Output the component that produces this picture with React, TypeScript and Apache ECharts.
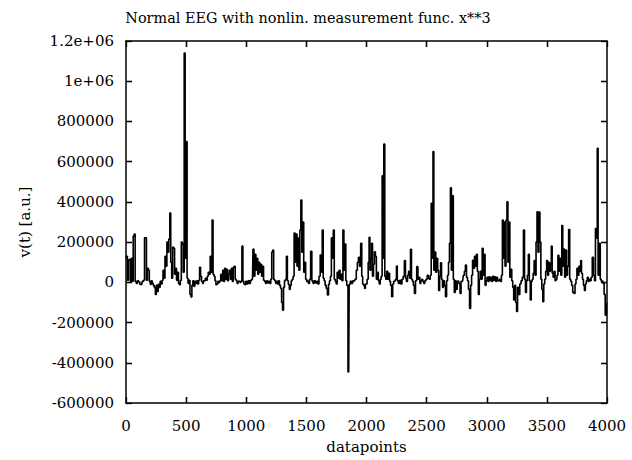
import React, { useEffect, useRef } from "react";
import * as echarts from "echarts";

const TITLE = "Normal EEG with nonlin. measurement func. x**3";
const X_NAME = "datapoints";
const Y_NAME = "v(t) [a.u.]";
const X_TICKS = [0, 500, 1000, 1500, 2000, 2500, 3000, 3500, 4000];
const Y_TICKS = [-600000, -400000, -200000, 0, 200000, 400000, 600000, 800000, 1000000, 1200000];

// [datapoint index, value]
const seg1: [number, number][] = [
  [0, 120000], [8, 130000], [16, 10000], [24, 110000], [32, 115000], [40, 5000], [48, 120000], [56, 5000],
  [64, 230000], [72, 240000], [80, 5000], [90, -5000], [100, 8000], [110, 2000], [120, -10000], [130, -12000],
  [140, 5000], [150, 10000], [158, 222000], [166, 220000], [174, 10000], [182, 70000], [190, 60000], [198, 5000],
  [206, -10000], [214, 8000], [222, -5000], [230, -15000], [240, -25000], [248, -60000], [256, -15000], [264, -45000],
  [272, -10000], [280, -25000], [288, 5000], [296, -8000], [304, 10000], [312, 60000], [320, 20000], [328, 130000],
  [336, 80000], [344, 200000], [352, 150000], [360, 215000], [368, 345000], [376, 100000], [384, 20000], [392, 175000],
  [400, 170000], [408, 40000], [416, 70000], [424, 10000], [432, 50000], [440, -5000], [448, -12000], [456, 10000],
  [464, 200000], [472, 190000], [480, 50000], [488, 1140000], [496, 120000], [504, 700000], [512, 20000], [520, -5000],
  [528, 10000], [536, -60000], [544, -73000], [552, -15000], [560, 8000], [568, -20000], [576, 5000], [584, -5000],
  [592, 8000], [600, -8000], [608, 10000], [616, 75000], [624, 30000], [632, 5000], [640, -5000], [648, 8000],
  [656, 5000], [664, 20000], [672, 10000], [680, 30000], [688, 50000], [696, 40000], [704, 130000], [712, 50000],
  [720, 310000], [728, 40000], [736, 30000], [744, 8000], [752, -12000], [760, -8000], [768, 5000], [776, 0],
  [784, 8000], [792, 40000], [800, 8000], [808, 60000], [816, 5000], [824, 70000], [832, 15000], [840, 65000],
  [848, 8000], [856, 40000], [864, 60000], [872, 15000], [880, 70000], [888, 5000], [896, 75000], [904, 80000],
  [912, 15000], [920, 8000], [928, -5000], [936, 5000], [944, 8000], [952, 0], [960, 5000], [968, 180000],
  [976, 5000], [984, -8000], [992, -12000],
];

const seg2: [number, number][] = [
  [1000, 5000], [1010, -8000], [1020, 8000], [1030, -5000], [1040, 10000], [1052, 15000], [1060, 165000], [1068, 30000],
  [1076, 140000], [1084, 60000], [1092, 120000], [1100, 40000], [1108, 100000], [1116, 50000], [1124, 90000], [1132, 30000],
  [1140, 80000], [1148, 10000], [1156, 5000], [1164, -5000], [1172, 8000], [1180, -3000], [1190, 5000], [1200, -5000],
  [1208, 15000], [1216, 150000], [1224, 160000], [1232, 15000], [1240, 8000], [1248, -5000], [1256, 5000], [1264, -8000],
  [1272, 8000], [1280, -15000], [1290, -30000], [1298, -100000], [1306, -138000], [1314, -25000], [1322, 8000], [1330, 15000],
  [1338, 130000], [1346, 8000], [1354, -10000], [1362, -35000], [1370, -15000], [1378, 8000], [1386, 15000], [1394, 30000],
  [1402, 245000], [1410, 100000], [1418, 240000], [1426, 80000], [1434, 220000], [1442, 60000], [1450, 260000], [1458, 409000],
  [1466, 150000], [1474, 300000], [1482, 50000], [1490, 100000], [1498, 15000], [1506, 5000], [1514, 8000], [1522, -5000],
  [1530, 15000], [1541, 154000], [1550, 8000], [1560, -5000], [1570, 8000], [1580, -3000], [1590, 5000], [1600, -8000],
  [1610, 30000], [1620, 136000], [1628, 50000], [1636, 260000], [1644, 20000], [1652, 8000], [1660, -15000], [1670, -30000],
  [1680, -63000], [1688, -10000], [1696, 8000], [1704, 30000], [1712, 222000], [1720, 120000], [1728, 260000], [1736, 15000],
  [1744, 5000], [1752, -8000], [1760, 50000], [1768, 20000], [1776, 60000], [1784, 15000], [1792, 40000], [1800, 8000],
  [1808, 260000], [1816, 60000], [1824, 190000], [1832, 8000], [1840, -15000], [1852, -446000], [1860, -10000], [1870, 5000],
  [1880, -5000], [1890, 8000], [1900, 5000], [1910, 15000], [1920, 60000], [1928, 100000], [1938, 125000], [1946, 80000],
  [1957, 194000], [1964, 30000], [1972, -8000], [1980, -15000], [1988, -30000], [1994, -8000],
];

const seg3: [number, number][] = [
  [2000, -8000], [2010, 15000], [2018, 100000], [2025, 224000], [2032, 60000], [2040, 120000], [2046, 194000], [2054, 30000],
  [2062, 90000], [2070, 152000], [2078, 130000], [2086, 15000], [2094, 50000], [2102, 8000], [2110, -8000], [2118, 15000],
  [2126, 30000], [2134, 530000], [2140, 120000], [2148, 688000], [2156, 30000], [2164, 15000], [2172, 55000], [2180, 15000],
  [2188, 45000], [2196, 5000], [2204, -15000], [2214, -72000], [2222, -8000], [2230, 5000], [2238, 8000], [2246, 15000],
  [2252, 81000], [2260, 8000], [2270, -5000], [2280, 10000], [2290, -8000], [2300, 15000], [2310, 30000], [2320, 108000],
  [2328, 20000], [2336, 5000], [2346, 35000], [2354, 55000], [2362, 20000], [2370, 164000], [2378, 15000], [2386, 5000],
  [2394, -15000], [2403, -55000], [2412, 8000], [2423, 78000], [2432, 15000], [2440, 25000], [2448, -5000], [2456, 8000],
  [2464, 15000], [2472, 5000], [2480, -5000], [2490, 8000], [2500, 15000], [2510, 35000], [2518, 20000], [2526, 15000],
  [2534, 35000], [2542, 393000], [2550, 120000], [2556, 650000], [2564, 60000], [2572, 150000], [2580, 50000], [2588, 120000],
  [2596, 60000], [2604, -40000], [2612, 30000], [2620, 97000], [2628, 15000], [2636, -25000], [2644, 8000], [2652, -15000],
  [2662, -72000], [2670, 8000], [2678, 35000], [2686, 100000], [2694, 194000], [2702, 470000], [2710, 60000], [2718, 430000],
  [2726, 15000], [2734, -50000], [2742, 8000], [2750, -35000], [2758, 5000], [2766, 8000], [2774, -8000], [2782, -55000],
  [2790, 5000], [2800, 8000], [2810, 35000], [2818, 55000], [2827, 86000], [2836, 25000], [2844, 8000], [2852, -35000],
  [2862, -130000], [2870, -15000], [2878, 35000], [2886, 110000], [2894, 70000], [2902, 130000], [2910, 80000], [2918, 140000],
  [2926, 55000], [2934, -60000], [2942, 15000], [2950, 55000], [2958, 15000], [2966, 169000], [2974, 35000], [2982, 140000],
  [2990, -15000], [2998, 8000],
];

const seg4: [number, number][] = [
  [3006, 25000], [3014, 5000], [3022, 28000], [3030, 8000], [3038, 25000], [3046, 5000], [3054, 30000], [3062, 10000],
  [3070, 28000], [3078, 5000], [3086, 25000], [3094, 8000], [3102, 5000], [3110, 15000], [3118, 5000], [3126, 35000],
  [3134, 310000], [3140, 120000], [3148, 300000], [3156, 80000], [3164, 310000], [3172, 401000], [3180, 100000], [3188, 300000],
  [3196, 25000], [3204, 65000], [3212, 8000], [3220, -25000], [3228, -88000], [3236, -15000], [3244, -100000], [3252, -145000],
  [3260, -25000], [3270, -60000], [3280, -8000], [3290, 8000], [3300, 25000], [3310, 260000], [3318, 15000], [3326, -50000],
  [3334, 8000], [3342, 35000], [3350, 140000], [3358, 8000], [3366, -88000], [3374, 5000], [3382, 15000], [3390, 45000],
  [3398, 108000], [3406, 35000], [3414, 200000], [3422, 351000], [3430, 150000], [3438, 350000], [3446, 200000], [3454, 15000],
  [3462, -35000], [3470, -96000], [3478, -8000], [3486, 15000], [3494, 55000], [3502, 108000], [3510, 35000], [3518, 100000],
  [3526, 55000], [3534, 90000], [3540, 180000], [3548, 45000], [3556, 25000], [3564, 55000], [3572, 8000], [3580, 15000],
  [3588, 35000], [3596, 135000], [3604, 55000], [3612, 120000], [3620, 35000], [3628, 282000], [3636, 80000], [3644, 165000],
  [3652, 25000], [3660, 160000], [3668, 35000], [3676, 80000], [3686, 263000], [3694, 15000], [3702, 5000], [3710, -15000],
  [3720, -50000], [3730, -55000], [3738, -8000], [3746, 15000], [3754, 70000], [3762, 35000], [3770, 80000], [3778, 55000],
  [3784, 108000], [3792, 45000], [3800, 15000], [3808, -15000], [3816, -40000], [3824, -8000], [3832, 8000], [3840, 25000],
  [3848, 5000], [3856, 15000], [3864, 8000], [3872, 25000], [3883, 125000], [3892, 35000], [3900, 8000], [3908, 268000],
  [3916, 220000], [3922, 667000], [3930, 35000], [3940, 194000], [3948, 15000], [3956, 5000], [3964, 8000], [3972, -5000],
  [3980, -60000], [3990, -163000], [4000, -100000],
];

const FONT = "DejaVu Serif";
const X_MIN = X_TICKS[0];
const X_MAX = X_TICKS[X_TICKS.length - 1];
const Y_MIN = Y_TICKS[0];
const Y_MAX = Y_TICKS[Y_TICKS.length - 1];

function fmtY(v: number): string {
  if (v === 1200000) return "1.2e+06";
  if (v === 1000000) return "1e+06";
  return String(v);
}

export default function App() {
  const ref = useRef<HTMLDivElement>(null);
  useEffect(() => {
    if (!ref.current) return;
    const chart = echarts.init(ref.current, null, { renderer: "svg" });
    const data = [...seg1, ...seg2, ...seg3, ...seg4];

    // grid geometry and tick length (px) converted into data units for the mirrored inward ticks
    const W = 632, H = 460, GL = 126, GR = 25, GT = 41, GB = 57, TL = 6;
    const dx = (TL * (X_MAX - X_MIN)) / (W - GL - GR);
    const dy = (TL * (Y_MAX - Y_MIN)) / (H - GT - GB);
    const tickSegs: any[] = [];
    X_TICKS.slice(1, -1).forEach((v) => {
      tickSegs.push([{ coord: [v, Y_MIN] }, { coord: [v, Y_MIN + dy] }]);
      tickSegs.push([{ coord: [v, Y_MAX] }, { coord: [v, Y_MAX - dy] }]);
    });
    Y_TICKS.slice(1, -1).forEach((v) => {
      tickSegs.push([{ coord: [X_MIN, v] }, { coord: [X_MIN + dx, v] }]);
      tickSegs.push([{ coord: [X_MAX, v] }, { coord: [X_MAX - dx, v] }]);
    });

    const mkLine = () => ({ show: true, onZero: false, lineStyle: { color: "#000", width: 1.5 } });
    const mkTick = () => ({ show: true, inside: true, length: TL, lineStyle: { color: "#000", width: 1.3 } });
    const label = { fontFamily: FONT, fontSize: 15, color: "#000" };
    chart.setOption({
      animation: false,
      backgroundColor: "#fff",
      title: {
        text: TITLE,
        left: 303,
        textAlign: "center",
        top: 6,
        textStyle: { fontFamily: FONT, fontSize: 14.4, fontWeight: "normal", color: "#000" },
      },
      grid: { left: GL, right: GR, top: GT, bottom: GB },
      xAxis: [
        {
          type: "value", min: X_MIN, max: X_MAX, interval: 500, position: "bottom",
          axisLine: mkLine(), axisTick: mkTick(), splitLine: { show: false },
          axisLabel: { ...label, margin: 15, formatter: (v: number) => String(v) },
          name: X_NAME, nameLocation: "middle", nameGap: 36,
          nameTextStyle: { fontFamily: FONT, fontSize: 15, color: "#000" },
        },
        {
          type: "value", min: X_MIN, max: X_MAX, interval: 500, position: "top",
          axisLine: mkLine(), axisTick: mkTick(), splitLine: { show: false }, axisLabel: { show: false },
        },
      ],
      yAxis: [
        {
          type: "value", min: Y_MIN, max: Y_MAX, interval: 200000, position: "left",
          axisLine: mkLine(), axisTick: mkTick(), splitLine: { show: false },
          axisLabel: { ...label, margin: 12, formatter: (v: number) => fmtY(v) },
          name: Y_NAME, nameLocation: "middle", nameGap: 94, nameRotate: 90,
          nameTextStyle: { fontFamily: FONT, fontSize: 15, color: "#000" },
        },
        {
          type: "value", min: Y_MIN, max: Y_MAX, interval: 200000, position: "right",
          axisLine: mkLine(), axisTick: mkTick(), splitLine: { show: false }, axisLabel: { show: false },
        },
      ],
      series: [
        {
          type: "line",
          data,
          step: "middle",
          showSymbol: false,
          symbol: "none",
          lineStyle: { color: "#000", width: 1.6 },
          xAxisIndex: 0,
          yAxisIndex: 0,
          markLine: {
            silent: true,
            animation: false,
            symbol: ["none", "none"],
            label: { show: false },
            emphasis: { disabled: true },
            lineStyle: { color: "#000", width: 1.3, type: "solid" },
            data: tickSegs,
          },
        },
      ],
    });

    return () => chart.dispose();
  }, []);
  return (
    <div
      ref={ref}
      style={{ position: "fixed", left: 0, top: 0, width: 632, height: 460, background: "#fff" }}
    />
  );
}
